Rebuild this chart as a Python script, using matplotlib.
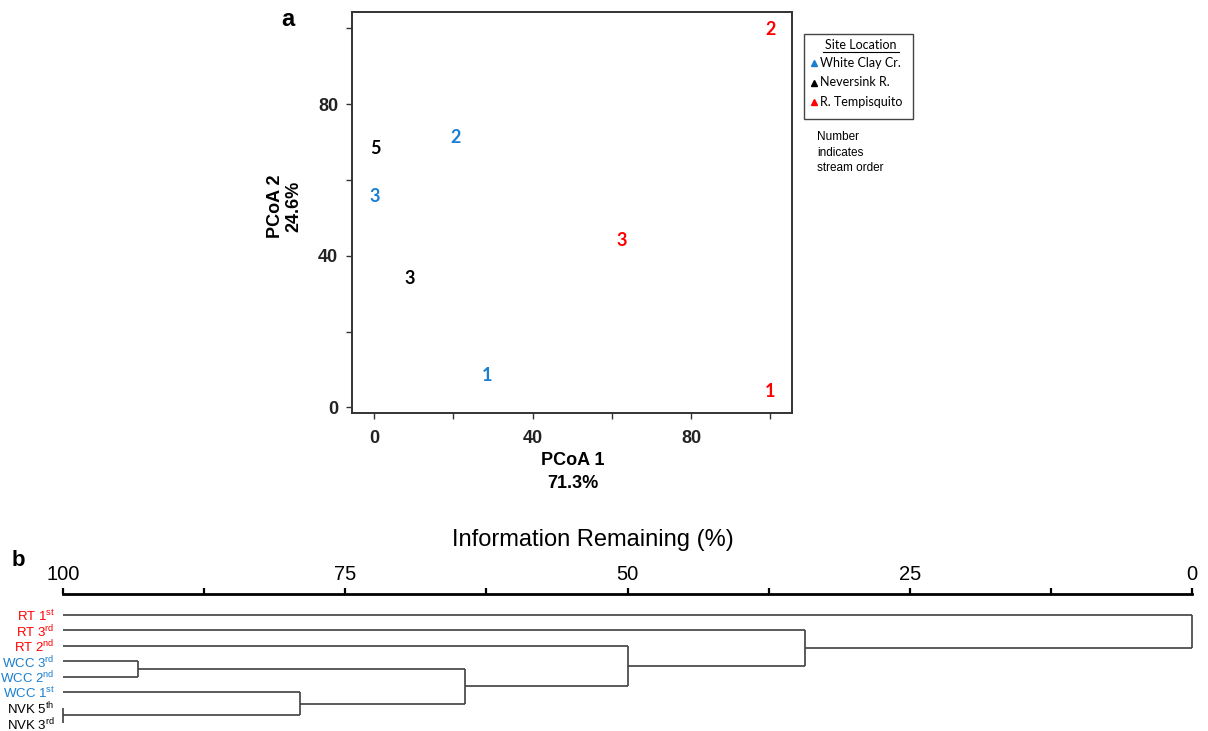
import matplotlib
matplotlib.use("Agg")
import matplotlib.pyplot as plt
from matplotlib.lines import Line2D
from matplotlib.patches import Rectangle

# ---------------- data ----------------
# Panel a: PCoA ordination (labels are stream orders)
site_order = ["1", "2", "3", "5", "3", "3", "2", "1"]
site_group = ["WCC", "WCC", "WCC", "NVK", "NVK", "RT", "RT", "RT"]
pcoa1 = [28.5, 20.6, 0.2, 0.2, 9.0, 62.5, 100.0, 100.0]
pcoa2 = [8.3, 71.1, 55.5, 68.4, 33.9, 43.9, 99.8, 4.3]
group_names = ["White Clay Cr.", "Neversink R.", "R. Tempisquito"]
group_keys = ["WCC", "NVK", "RT"]
group_colors = {"WCC": "#1a7fd0", "NVK": "#000000", "RT": "#ff0000"}
pcoa_ticks = [0, 40, 80]
pcoa_minor = [20, 60, 100]

# Panel b: cluster dendrogram
leaf_labels = [r"RT 1$^{\mathregular{st}}$", r"RT 3$^{\mathregular{rd}}$", r"RT 2$^{\mathregular{nd}}$",
               r"WCC 3$^{\mathregular{rd}}$", r"WCC 2$^{\mathregular{nd}}$", r"WCC 1$^{\mathregular{st}}$",
               r"NVK 5$^{\mathregular{th}}$", r"NVK 3$^{\mathregular{rd}}$"]
leaf_groups = ["RT", "RT", "RT", "WCC", "WCC", "WCC", "NVK", "NVK"]
merge_left = [6, 3, 5, 9, 2, 1, 0]
merge_right = [7, 4, 8, 10, 11, 12, 13]
merge_height = [100.0, 93.4, 79.0, 64.4, 50.0, 34.3, 0.0]
info_ticks = [100, 75, 50, 25, 0]
info_minor = [87.5, 62.5, 37.5, 12.5]

# ---------------- figure ----------------
plt.rcParams["mathtext.fontset"] = "custom"
plt.rcParams["mathtext.rm"] = "Liberation Sans"
W, H = 1208, 731
fig = plt.figure(figsize=(W / 100, H / 100), dpi=100)

def fx(px):
    return px / W

def fy(py):
    return 1 - py / H

bold_narrow = ["Liberation Sans Narrow", "Liberation Sans", "DejaVu Sans"]

# ---- panel a ----
ax = fig.add_axes([fx(352), fy(413), fx(792) - fx(352), fy(12) - fy(413)])
ax.set_xlim(-5.6, 105.5)
ax.set_ylim(-1.5, 104.3)
for s in ax.spines.values():
    s.set_linewidth(1.4)
    s.set_color("#333333")
ax.set_xticks(pcoa_ticks)
ax.set_yticks(pcoa_ticks)
ax.set_xticks(pcoa_minor, minor=True)
ax.set_yticks(pcoa_minor, minor=True)
ax.tick_params(which="both", direction="out", length=4, width=1.0, color="#333333")
ax.tick_params(axis="x", which="major", pad=8)
ax.tick_params(axis="y", which="major", pad=6)
for lab in ax.get_xticklabels() + ax.get_yticklabels():
    lab.set_fontfamily(bold_narrow)
    lab.set_fontweight("bold")
    lab.set_fontsize(13)
    lab.set_color("#222222")

for x, y, t, g in zip(pcoa1, pcoa2, site_order, site_group):
    ax.text(x, y, t, color=group_colors[g], fontsize=13, fontweight="bold",
            family=["Lato", "DejaVu Sans"], ha="center", va="center")

fig.text(fx(573), fy(460), "PCoA 1", ha="center", va="center", fontsize=13,
         fontweight="bold", family=["Liberation Sans", "DejaVu Sans"])
fig.text(fx(573), fy(483), "71.3%", ha="center", va="center", fontsize=13,
         fontweight="bold", family=["Liberation Sans", "DejaVu Sans"])
fig.text(fx(276), fy(206), "PCoA 2", ha="center", va="center", fontsize=13, rotation=90,
         fontweight="bold", family=["Liberation Sans", "DejaVu Sans"])
fig.text(fx(294), fy(206), "24.6%", ha="center", va="center", fontsize=13, rotation=90,
         fontweight="bold", family=["Liberation Sans", "DejaVu Sans"])
fig.text(fx(288), fy(19), "a", ha="center", va="center", fontsize=17,
         fontweight="bold", family=["Liberation Sans", "DejaVu Sans"])

# legend box
fig.patches.append(Rectangle((fx(804), fy(119)), fx(913) - fx(804), fy(34) - fy(119),
                             transform=fig.transFigure, fill=False, edgecolor="#444444", lw=1.0))
fig.text(fx(861), fy(45), "Site Location", ha="center", va="center", fontsize=9,
         family=["Lato", "DejaVu Sans"])
fig.lines.append(Line2D([fx(823), fx(899)], [fy(52), fy(52)], transform=fig.transFigure,
                        color="black", lw=0.8))
for i, (name, key) in enumerate(zip(group_names, group_keys)):
    yy = 63 + i * 19.5
    fig.lines.append(Line2D([fx(814)], [fy(yy)], transform=fig.transFigure, marker="^",
                            markersize=5, color=group_colors[key], linestyle="none"))
    fig.text(fx(820), fy(yy), name, ha="left", va="center", fontsize=9,
             family=["Lato", "DejaVu Sans"])
for i, line in enumerate(["Number", "indicates", "stream order"]):
    fig.text(fx(817), fy(137 + i * 15.5), line, ha="left", va="center", fontsize=8.5,
             family=["Liberation Sans", "DejaVu Sans"])

# ---- panel b ----
bx = fig.add_axes([fx(63), 0.0, fx(1192) - fx(63), fy(594)])
step = 15.45
bx.set_xlim(100, 0)
bx.set_ylim((731 - 615) / step, -(615 - 594) / step)
for side in ["left", "right", "bottom"]:
    bx.spines[side].set_visible(False)
bx.spines["top"].set_linewidth(2.0)
bx.xaxis.tick_top()
bx.set_xticks(info_ticks)
bx.set_xticks(info_minor, minor=True)
bx.tick_params(axis="x", which="both", direction="out", length=4.5, width=1.6, pad=2.5,
               labelsize=14.5)
for lab in bx.get_xticklabels():
    lab.set_fontfamily(["Liberation Sans", "DejaVu Sans"])
fig.text(fx(593), fy(540), "Information Remaining (%)", ha="center", va="center", fontsize=17,
         family=["Liberation Sans", "DejaVu Sans"])

bx.set_yticks(range(len(leaf_labels)))
bx.set_yticklabels(leaf_labels)
bx.tick_params(axis="y", length=0, pad=6, labelsize=9.5)
for lab, g in zip(bx.get_yticklabels(), leaf_groups):
    lab.set_color(group_colors[g])
    lab.set_fontfamily(["Liberation Sans", "DejaVu Sans"])

# dendrogram links
pos = {i: (float(i), 100.0) for i in range(len(leaf_labels))}
lc = "#404040"
for k, (a, b, h) in enumerate(zip(merge_left, merge_right, merge_height)):
    ya, ha_ = pos[a]
    yb, hb = pos[b]
    bx.plot([ha_, h], [ya, ya], color=lc, lw=1.2, solid_capstyle="butt", clip_on=False)
    bx.plot([hb, h], [yb, yb], color=lc, lw=1.2, solid_capstyle="butt", clip_on=False)
    bx.plot([h, h], [ya, yb], color=lc, lw=1.2, solid_capstyle="butt", clip_on=False)
    pos[len(leaf_labels) + k] = ((ya + yb) / 2, h)

fig.text(fx(18), fy(560), "b", ha="center", va="center", fontsize=16,
         fontweight="bold", family=["Liberation Sans", "DejaVu Sans"])

fig.savefig("out.png", dpi=100)
